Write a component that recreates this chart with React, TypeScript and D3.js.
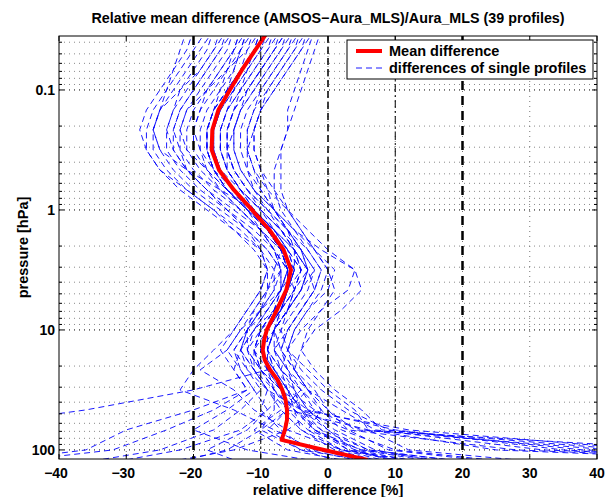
import React from "react";
import * as d3 from "d3";

const W = 606, H = 497;
const M = { left: 59, right: 597, top: 36, bottom: 459 };

const TITLE = "Relative mean difference (AMSOS\u2212Aura_MLS)/Aura_MLS (39 profiles)";
const X_LABEL = "relative difference [%]";
const Y_LABEL = "pressure [hPa]";
const X_TICKS = [-40, -30, -20, -10, 0, 10, 20, 30, 40];
const Y_TICKS = [0.1, 1, 10, 100];
const Y_TICK_LABELS = ["0.1", "1", "10", "100"];
const X_DOMAIN = [-40, 40];
const Y_DOMAIN = [0.0355, 119];

// mean difference profile
const meanP = [0.0316, 0.0464, 0.0681, 0.1, 0.147, 0.215, 0.316, 0.464, 0.681, 1, 1.47, 2.15, 3.16, 4.64, 6.81, 10, 12.1, 14.7, 17.8, 21.5, 26.1, 31.6, 38.3, 46.4, 56.2, 68.1, 82.5, 100, 121];
const meanDiff = [-8.8, -10.8, -12.8, -14.6, -16.3, -17.2, -17.3, -16.2, -14.0, -11.3, -8.7, -6.6, -5.5, -6.2, -7.6, -9.1, -9.5, -9.7, -9.4, -8.6, -7.5, -6.8, -6.3, -6.1, -6.1, -6.4, -6.9, -0.6, 5.9];

// single profiles
const profP = [0.0316, 0.0464, 0.0681, 0.1, 0.147, 0.215, 0.316, 0.464, 0.681, 1, 1.47, 2.15, 3.16, 4.64, 6.81, 10, 14.7, 21.5, 31.6, 46.4, 68.1, 100, 121];
const prof01 = [-20, -21, -23, -25, -27, -28, -27, -25, -21, -17, -14, -11, -9, -10, -12, -14, -16, -14, -12, -20, -30, -36, -48];
const prof02 = [-4, -5, -7, -9, -11, -12, -12, -11, -9, -6, -3, 0, 4, 3, -1, -3, -4, -2, 1, 5, 8, 45, 80];
const prof03 = [-10, -12, -15, -18, -21, -22, -21, -18, -15, -11, -8, -6, -5, -7, -9, -11, -13, -11, -9, -10, -7, -3, 4];
const prof04 = [-14, -16, -18, -20, -22, -23, -22, -20, -17, -13, -10, -8, -7, -7, -9, -12, -14, -12, -9, -4, 3, 28, 65];
const prof05 = [-7, -9, -11, -13, -15, -16, -16, -15, -13, -10, -7, -5, -4, -6, -8, -9, -9, -7, -4, -2, -6, -14, -22];
const prof06 = [-1, -2, -3, -4, -5, -6, -7, -7, -7, -6, -4, -2, 1, 0, -3, -5, -6, -4, -1, 3, 9, 38, 85];
const prof07 = [-17, -19, -21, -23, -25, -26, -25, -23, -20, -16, -12, -9, -7, -9, -11, -13, -15, -13, -11, -15, -20, -12, -3];
const prof08 = [-9, -11, -13, -15, -17, -18, -18, -17, -15, -12, -9, -7, -6, -5, -6, -8, -10, -9, -7, -6, -9, -4, 1];
const prof09 = [-12, -13, -15, -17, -19, -20, -20, -18, -15, -12, -8, -5, -3, -4, -6, -8, -9, -7, -4, -1, 2, 10, 24];
const prof10 = [-6, -8, -10, -12, -14, -15, -15, -14, -12, -9, -6, -4, -2, -4, -6, -8, -9, -8, -6, -9, -13, -22, -30];
const prof11 = [-3, -4, -6, -8, -10, -11, -11, -10, -9, -8, -6, -4, -3, -5, -7, -8, -7, -5, -2, 0, 4, 55, 90];
const prof12 = [-15, -17, -19, -21, -23, -24, -24, -22, -19, -15, -11, -8, -6, -7, -10, -13, -15, -19, -14, -11, -6, 2, 12];
const prof13 = [-8, -10, -12, -14, -16, -17, -17, -16, -14, -12, -10, -8, -6, -6, -7, -9, -11, -10, -8, -5, -1, 6, 18];
const prof14 = [-11, -12, -13, -14, -15, -16, -16, -15, -13, -10, -7, -5, -4, -5, -6, -8, -8, -6, -3, 2, 7, 32, 70];
const prof15 = [-5, -7, -9, -11, -13, -14, -14, -13, -11, -8, -5, -3, -1, -2, -4, -6, -7, -5, -3, -6, -10, -4, 5];
const prof16 = [-18, -20, -22, -24, -26, -27, -27, -25, -22, -18, -14, -10, -8, -8, -10, -12, -13, -12, -10, -13, -17, -25, -34];
const prof17 = [-2, -4, -6, -8, -10, -11, -12, -12, -11, -9, -7, -5, -3, -4, -6, -7, -6, -3, 0, 4, 6, 12, 28];
const prof18 = [-13, -14, -16, -18, -20, -21, -21, -19, -16, -13, -10, -8, -7, -8, -10, -12, -13, -11, -8, -5, -2, 3, 10];
const prof19 = [-9, -10, -12, -14, -16, -17, -17, -16, -13, -10, -7, -4, -2, -3, -5, -7, -8, -6, -4, -7, -11, -6, 2];
const prof20 = [-16, -17, -19, -22, -25, -26, -25, -21, -16, -11, -8, -7, -8, -9, -11, -12, -12, -10, -7, -3, 1, 7, 15];
const prof21 = [-6, -7, -9, -11, -13, -14, -15, -14, -12, -10, -8, -6, -5, -6, -7, -9, -10, -9, -20, -36, -58, -70, -80];
const prof22 = [-10, -11, -13, -15, -16, -17, -17, -16, -14, -11, -8, -5, -3, -2, -4, -6, -8, -7, -5, -3, 0, 4, 9];
const prof23 = [-4, -6, -8, -10, -12, -13, -13, -12, -10, -8, -5, -1, 4, 5, 2, -2, -4, -5, -3, 0, 3, 9, 22];
const prof24 = [-21, -22, -23, -24, -25, -26, -26, -24, -21, -17, -13, -10, -9, -10, -12, -14, -17, -20, -22, -14, -8, -2, 6];
const prof25 = [-12, -14, -16, -18, -19, -20, -19, -17, -14, -11, -8, -6, -4, -5, -7, -10, -12, -11, -9, -6, -3, 5, 16];
const prof26 = [-7, -8, -10, -12, -13, -14, -14, -13, -11, -8, -6, -5, -5, -6, -8, -10, -11, -9, -6, -2, 5, 42, 75];
const prof27 = [-14, -15, -17, -19, -21, -22, -22, -21, -18, -15, -12, -9, -7, -7, -8, -10, -11, -10, -8, -8, -10, -15, -21];
const prof28 = [-2, -3, -4, -5, -6, -6, -7, -8, -8, -7, -5, -2, 0, -1, -3, -5, -6, -5, -3, -1, -3, 2, 8];
const prof29 = [-11, -13, -14, -16, -18, -19, -19, -18, -16, -13, -10, -7, -5, -6, -8, -9, -10, -8, -5, -3, 10, 35, 60];
const prof30 = [-8, -9, -11, -13, -15, -16, -16, -15, -13, -11, -9, -7, -6, -7, -8, -10, -11, -11, -9, -7, -4, 1, 7];
const prof31 = [-15, -16, -18, -20, -22, -23, -23, -21, -18, -14, -10, -7, -5, -6, -8, -11, -13, -14, -12, -17, -24, -32, -45];
const prof32 = [-5, -6, -8, -10, -11, -12, -12, -11, -10, -8, -6, -3, -1, -2, -4, -6, -7, -6, -5, -4, -2, 5, 14];
const prof33 = [-9, -11, -13, -15, -17, -18, -18, -17, -15, -12, -9, -6, -4, -5, -7, -9, -10, -8, -6, -4, -1, 3, 11];
const prof34 = [-13, -14, -15, -16, -17, -18, -18, -17, -15, -12, -9, -7, -6, -6, -7, -8, -9, -9, -8, -6, 6, 25, 62];
const prof35 = [-3, -5, -7, -9, -10, -11, -11, -10, -8, -6, -4, -2, 0, 1, -1, -4, -6, -7, -6, -4, 0, 6, 18];
const prof36 = [-17, -18, -20, -22, -23, -24, -23, -21, -18, -15, -12, -10, -9, -9, -10, -12, -14, -13, -11, -9, -12, -18, -14];
const prof37 = [-10, -11, -12, -13, -14, -15, -15, -14, -12, -9, -6, -4, -3, -4, -6, -8, -9, -8, -6, -5, -4, 2, 10];
const prof38 = [-6, -8, -10, -12, -14, -15, -15, -15, -13, -11, -9, -7, -6, -7, -9, -11, -12, -10, -7, -4, 12, 48, 95];
const prof39 = [-12, -13, -14, -15, -17, -18, -18, -17, -15, -12, -9, -7, -6, -6, -7, -9, -10, -9, -7, -5, -2, 4, 12];

const profiles = [prof01, prof02, prof03, prof04, prof05, prof06, prof07, prof08, prof09, prof10, prof11, prof12, prof13, prof14, prof15, prof16, prof17, prof18, prof19, prof20, prof21, prof22, prof23, prof24, prof25, prof26, prof27, prof28, prof29, prof30, prof31, prof32, prof33, prof34, prof35, prof36, prof37, prof38, prof39];

const FONT = "'Liberation Sans', Arial, Helvetica, sans-serif";

export default function App() {
  const x = d3.scaleLinear().domain(X_DOMAIN).range([M.left, M.right]);
  const y = d3.scaleLog().domain(Y_DOMAIN).range([M.top, M.bottom]);

  const line = d3
    .line<[number, number]>()
    .x((d) => x(d[0]))
    .y((d) => y(d[1]));

  const minor: number[] = [];
  for (let e = -2; e <= 2; e++) {
    for (let m = 1; m <= 9; m++) {
      const v = m * Math.pow(10, e);
      if (v >= Y_DOMAIN[0] && v <= Y_DOMAIN[1]) minor.push(v);
    }
  }
  const isMajor = (v: number) => Y_TICKS.some((t) => Math.abs(t - v) / t < 1e-6);

  const refLines: { v: number; w: number; dash: string }[] = [
    { v: -20, w: 2.5, dash: "9,6" },
    { v: 20, w: 2.5, dash: "9,6" },
    { v: 0, w: 1.5, dash: "7,4" },
    { v: -10, w: 1, dash: "8,3,2,3" },
    { v: 10, w: 1, dash: "8,3,2,3" },
  ];

  return (
    <svg width={W} height={H} style={{ display: "block", position: "absolute", left: 0, top: 0 }} fontFamily={FONT}>
      <rect x={0} y={0} width={W} height={H} fill="#fff" />
      <defs>
        <clipPath id="plotclip">
          <rect x={M.left} y={M.top} width={M.right - M.left} height={M.bottom - M.top} />
        </clipPath>
      </defs>
      <rect x={M.left} y={M.top} width={M.right - M.left} height={M.bottom - M.top} fill="#fff" />

      {minor.map((v, i) => (
        <line
          key={"hg" + i}
          x1={M.left}
          x2={M.right}
          y1={y(v)}
          y2={y(v)}
          stroke={isMajor(v) ? "#000" : "#8a8a8a"}
          strokeWidth={1}
          strokeDasharray="1,4"
        />
      ))}
      {X_TICKS.slice(1, -1).map((v, i) => (
        <line key={"vg" + i} x1={x(v)} x2={x(v)} y1={M.top} y2={M.bottom} stroke="#777" strokeWidth={1} strokeDasharray="1,4" />
      ))}

      <g clipPath="url(#plotclip)">
        {profiles.map((p, i) => (
          <path
            key={"p" + i}
            d={line(p.map((v, j) => [v, profP[j]] as [number, number])) || ""}
            fill="none"
            stroke="#0000ff"
            strokeWidth={0.9}
            strokeDasharray="6,4"
          />
        ))}
        {refLines.map((r, i) => (
          <line key={"r" + i} x1={x(r.v)} x2={x(r.v)} y1={M.top} y2={M.bottom} stroke="#000" strokeWidth={r.w} strokeDasharray={r.dash} />
        ))}
        <path
          d={line(meanDiff.map((v, j) => [v, meanP[j]] as [number, number])) || ""}
          fill="none"
          stroke="#ff0000"
          strokeWidth={4}
          strokeLinejoin="round"
        />
      </g>

      <rect x={M.left} y={M.top} width={M.right - M.left} height={M.bottom - M.top} fill="none" stroke="#000" strokeWidth={1} />

      {X_TICKS.map((v, i) => (
        <g key={"xt" + i}>
          <line x1={x(v)} x2={x(v)} y1={M.bottom} y2={M.bottom - 5} stroke="#000" />
          <line x1={x(v)} x2={x(v)} y1={M.top} y2={M.top + 5} stroke="#000" />
          <text x={x(v) - (v < 0 ? 3 : 0)} y={478} textAnchor="middle" fontSize={14} fontWeight="bold">
            {v < 0 ? "\u2212" + Math.abs(v) : String(v)}
          </text>
        </g>
      ))}
      {minor.map((v, i) => {
        const len = isMajor(v) ? 5 : 3;
        return (
          <g key={"yt" + i}>
            <line x1={M.left} x2={M.left + len} y1={y(v)} y2={y(v)} stroke="#000" />
            <line x1={M.right} x2={M.right - len} y1={y(v)} y2={y(v)} stroke="#000" />
          </g>
        );
      })}
      {Y_TICKS.map((v, i) => (
        <text key={"yl" + i} x={M.left - 4} y={y(v) + 5} textAnchor="end" fontSize={14} fontWeight="bold">
          {Y_TICK_LABELS[i]}
        </text>
      ))}

      <text x={(M.left + M.right) / 2} y={23} textAnchor="middle" fontSize={14.3} fontWeight="bold">
        {TITLE}
      </text>
      <text x={(M.left + M.right) / 2} y={495} textAnchor="middle" fontSize={14.5} fontWeight="bold">
        {X_LABEL}
      </text>
      <text
        transform={`translate(28,${(M.top + M.bottom) / 2}) rotate(-90)`}
        textAnchor="middle"
        fontSize={14.5}
        fontWeight="bold"
      >
        {Y_LABEL}
      </text>

      <g>
        <rect x={347} y={40} width={246} height={39} fill="#fff" stroke="#000" strokeWidth={1} />
        <line x1={356} x2={382} y1={51} y2={51} stroke="#ff0000" strokeWidth={4} />
        <text x={389} y={56} fontSize={14.5} fontWeight="bold">Mean difference</text>
        <line x1={356} x2={382} y1={68} y2={68} stroke="#0000ff" strokeWidth={0.9} strokeDasharray="6,4" />
        <text x={389} y={73} fontSize={14.5} fontWeight="bold">differences of single profiles</text>
      </g>
    </svg>
  );
}
